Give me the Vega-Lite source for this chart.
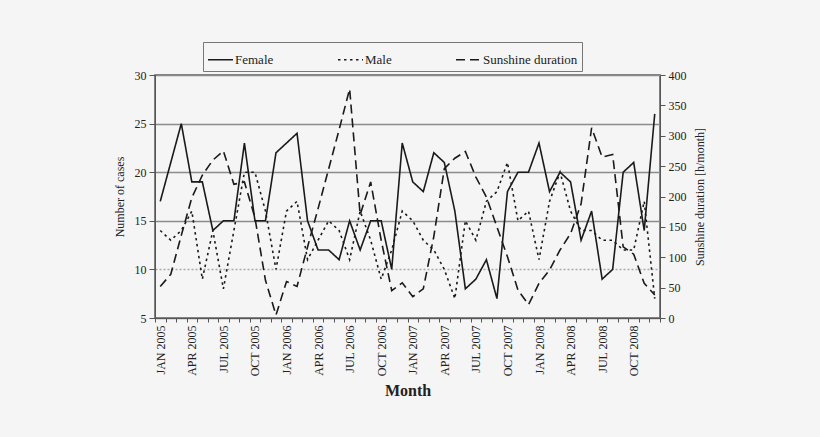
{
  "$schema": "https://vega.github.io/schema/vega-lite/v6.json",
  "width": 505,
  "height": 243,
  "autosize": {"type": "none"},
  "padding": {"left": 155, "top": 75, "right": 160, "bottom": 119},
  "background": "#f5f5f5",
  "data": {
    "values": [
      {"month": "JAN 2005", "female": 17, "male": 14, "sunshine": 52},
      {"month": "FEB 2005", "female": 21, "male": 13, "sunshine": 72},
      {"month": "MAR 2005", "female": 25, "male": 14, "sunshine": 136},
      {"month": "APR 2005", "female": 19, "male": 16, "sunshine": 198},
      {"month": "MAY 2005", "female": 19, "male": 9, "sunshine": 235},
      {"month": "JUN 2005", "female": 14, "male": 14, "sunshine": 260},
      {"month": "JUL 2005", "female": 15, "male": 8, "sunshine": 275},
      {"month": "AUG 2005", "female": 15, "male": 14, "sunshine": 220},
      {"month": "SEP 2005", "female": 23, "male": 20, "sunshine": 224},
      {"month": "OCT 2005", "female": 15, "male": 20, "sunshine": 165},
      {"month": "NOV 2005", "female": 15, "male": 16, "sunshine": 62},
      {"month": "DEC 2005", "female": 22, "male": 10, "sunshine": 5},
      {"month": "JAN 2006", "female": 23, "male": 16, "sunshine": 60},
      {"month": "FEB 2006", "female": 24, "male": 17, "sunshine": 52},
      {"month": "MAR 2006", "female": 15, "male": 11, "sunshine": 117},
      {"month": "APR 2006", "female": 12, "male": 13, "sunshine": 180},
      {"month": "MAY 2006", "female": 12, "male": 15, "sunshine": 245},
      {"month": "JUN 2006", "female": 11, "male": 14, "sunshine": 310},
      {"month": "JUL 2006", "female": 15, "male": 11, "sunshine": 377},
      {"month": "AUG 2006", "female": 12, "male": 16, "sunshine": 170},
      {"month": "SEP 2006", "female": 15, "male": 13, "sunshine": 224},
      {"month": "OCT 2006", "female": 15, "male": 9, "sunshine": 128},
      {"month": "NOV 2006", "female": 10, "male": 12, "sunshine": 45},
      {"month": "DEC 2006", "female": 23, "male": 16, "sunshine": 58},
      {"month": "JAN 2007", "female": 19, "male": 15, "sunshine": 35},
      {"month": "FEB 2007", "female": 18, "male": 13, "sunshine": 48},
      {"month": "MAR 2007", "female": 22, "male": 12, "sunshine": 134},
      {"month": "APR 2007", "female": 21, "male": 10, "sunshine": 246},
      {"month": "MAY 2007", "female": 16, "male": 7, "sunshine": 263},
      {"month": "JUN 2007", "female": 8, "male": 15, "sunshine": 274},
      {"month": "JUL 2007", "female": 9, "male": 13, "sunshine": 232},
      {"month": "AUG 2007", "female": 11, "male": 17, "sunshine": 199},
      {"month": "SEP 2007", "female": 7, "male": 18, "sunshine": 150},
      {"month": "OCT 2007", "female": 18, "male": 21, "sunshine": 101},
      {"month": "NOV 2007", "female": 20, "male": 15, "sunshine": 46},
      {"month": "DEC 2007", "female": 20, "male": 16, "sunshine": 22},
      {"month": "JAN 2008", "female": 23, "male": 11, "sunshine": 57},
      {"month": "FEB 2008", "female": 18, "male": 17, "sunshine": 79},
      {"month": "MAR 2008", "female": 20, "male": 20, "sunshine": 112},
      {"month": "APR 2008", "female": 19, "male": 16, "sunshine": 139},
      {"month": "MAY 2008", "female": 13, "male": 14, "sunshine": 188},
      {"month": "JUN 2008", "female": 16, "male": 14, "sunshine": 313},
      {"month": "JUL 2008", "female": 9, "male": 13, "sunshine": 265},
      {"month": "AUG 2008", "female": 10, "male": 13, "sunshine": 269},
      {"month": "SEP 2008", "female": 20, "male": 12, "sunshine": 117},
      {"month": "OCT 2008", "female": 21, "male": 12, "sunshine": 105},
      {"month": "NOV 2008", "female": 14, "male": 17, "sunshine": 57},
      {"month": "DEC 2008", "female": 26, "male": 7, "sunshine": 38}
    ]
  },
  "encoding": {
    "x": {
      "field": "month",
      "type": "ordinal",
      "sort": null,
      "scale": {"type": "band", "paddingInner": 0, "paddingOuter": 0},
      "axis": {
        "title": "Month",
        "titleFontSize": 16,
        "titleFontWeight": "bold",
        "titlePadding": 6,
        "labelAngle": 270,
        "labelFontSize": 12,
        "labelPadding": 3,
        "tickBand": "extent",
        "tickSize": 4,
        "labelExpr": "test(/^(JAN|APR|JUL|OCT)/, datum.label) ? datum.label : ''"
      }
    }
  },
  "layer": [
    {
      "layer": [
        {
          "mark": {"type": "line", "color": "#1a1a1a", "strokeWidth": 1.6},
          "encoding": {
            "y": {
              "field": "female",
              "type": "quantitative",
              "scale": {"domain": [5, 30], "nice": false, "zero": false},
              "axis": {
                "title": "Number of cases",
                "values": [5, 10, 15, 20, 25, 30],
                "grid": true,
                "gridColor": {"condition": {"test": "datum.value === 10", "value": "#aaaaaa"}, "value": "#8c8c8c"},
                "gridDash": {"condition": {"test": "datum.value === 10", "value": [2, 2]}, "value": []},
                "gridWidth": 1.3,
                "tickSize": 6,
                "labelPadding": 3,
                "titlePadding": 8
              }
            },
            "strokeDash": {
              "datum": "Female",
              "scale": {
                "domain": ["Female", "Male", "Sunshine duration"],
                "range": [[1, 0], [2.5, 3.5], [9, 5]]
              },
              "legend": {
                "title": null,
                "orient": "none",
                "direction": "horizontal",
                "legendX": 48,
                "legendY": -33,
                "padding": 4,
                "columnPadding": 60,
                "strokeColor": "#777777",
                "fillColor": "#f5f5f5",
                "symbolType": "stroke",
                "symbolSize": 625,
                "symbolStrokeWidth": 1.6,
                "symbolStrokeColor": "#1a1a1a",
                "labelOffset": 1,
                "labelFontSize": 13,
                "labelFont": "Liberation Serif",
                "labelColor": "#222222"
              }
            }
          }
        },
        {
          "mark": {"type": "line", "color": "#1a1a1a", "strokeWidth": 1.6},
          "encoding": {
            "y": {"field": "male", "type": "quantitative", "axis": {"title": "Number of cases"}},
            "strokeDash": {"datum": "Male"}
          }
        }
      ]
    },
    {
      "mark": {"type": "line", "color": "#1a1a1a", "strokeWidth": 1.6},
      "encoding": {
        "y": {
          "field": "sunshine",
          "type": "quantitative",
          "scale": {"domain": [0, 400], "nice": false},
          "axis": {
            "title": "Sunshine duration [h/month]",
            "orient": "right",
            "values": [0, 50, 100, 150, 200, 250, 300, 350, 400],
            "grid": false,
            "tickSize": 5,
            "labelPadding": 3,
            "titlePadding": 8,
            "titleAngle": 270,
            "titleBaseline": "top"
          }
        },
        "strokeDash": {"datum": "Sunshine duration"}
      }
    }
  ],
  "resolve": {"scale": {"y": "independent"}},
  "config": {
    "font": "Liberation Serif",
    "view": {"stroke": "#5a5a5a", "strokeWidth": 1.5},
    "axis": {
      "labelFont": "Liberation Serif",
      "titleFont": "Liberation Serif",
      "labelFontSize": 12,
      "titleFontSize": 12,
      "titleFontWeight": "normal",
      "labelColor": "#222222",
      "titleColor": "#222222",
      "domainColor": "#555555",
      "tickColor": "#555555",
      "grid": false
    }
  }
}
